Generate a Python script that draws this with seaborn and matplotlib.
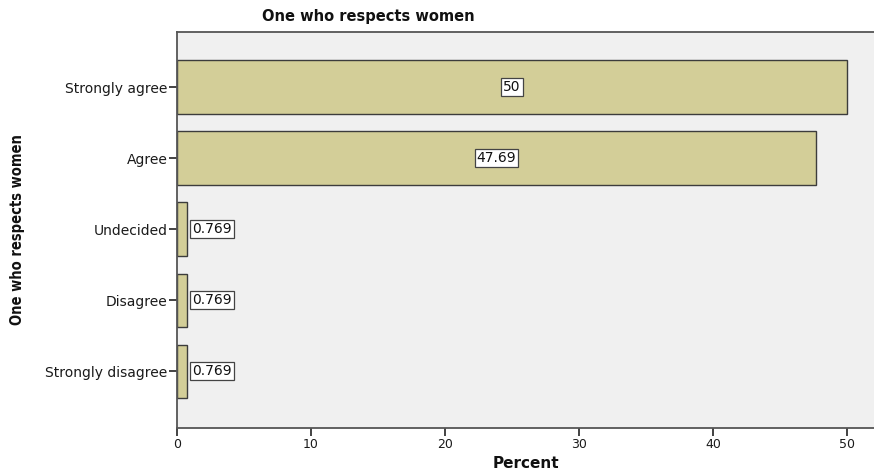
import matplotlib
matplotlib.use("Agg")
import matplotlib.pyplot as plt
import seaborn as sns
import pandas as pd

categories = ["Strongly agree", "Agree", "Undecided", "Disagree", "Strongly disagree"]
percents = [50, 47.69, 0.769, 0.769, 0.769]
value_labels = ["50", "47.69", "0.769", "0.769", "0.769"]
x_ticks = [0, 10, 20, 30, 40, 50]

sns.set_theme(style="white")
plt.rcParams["font.family"] = ["DejaVu Sans"]

df = pd.DataFrame({"category": categories, "percent": percents})

fig = plt.figure(figsize=(8.74, 4.73), dpi=100)
ax = fig.add_axes([177 / 874, 45 / 473, 697 / 874, 396 / 473])
ax.set_facecolor("#F0F0F0")

sns.barplot(data=df, y="category", x="percent", order=categories, orient="h",
            color="#D3CE98", saturation=1, width=0.75,
            edgecolor="#3c3c3c", linewidth=1.0, ax=ax)

for i, (v, lab) in enumerate(zip(percents, value_labels)):
    if v > 5:
        xpos, ha = v / 2, "center"
    else:
        xpos, ha = v + 0.35, "left"
    ax.text(xpos, i, lab, ha=ha, va="center", fontsize=10, fontstretch="normal",
            color="#111111",
            bbox=dict(boxstyle="square,pad=0.14", facecolor="white",
                      edgecolor="#444444", linewidth=0.9))

ax.set_xlim(0, 52.0)
ax.set_ylim(4.80, -0.775)
ax.set_xticks(x_ticks)
ax.set_xticklabels([str(t) for t in x_ticks])
ax.tick_params(axis="both", which="both", bottom=True, left=True,
               length=6, width=1.2, color="#222222", direction="out",
               labelsize=10, labelcolor="#1a1a1a", pad=1)
ax.tick_params(axis="x", labelsize=9)
for lab in ax.get_xticklabels() + ax.get_yticklabels():
    lab.set_fontstretch("normal")

for side in ["top", "left", "bottom"]:
    ax.spines[side].set_visible(True)
    ax.spines[side].set_color("#555555")
    ax.spines[side].set_linewidth(1.3)
ax.spines["right"].set_visible(False)

ax.set_xlabel("Percent", fontsize=11, fontweight="bold", fontstretch="normal",
              labelpad=4, color="#111111")
ax.set_ylabel("One who respects women", fontsize=10.5, fontweight="bold",
              fontstretch="condensed", color="#111111")
ax.yaxis.set_label_coords(-152 / 697, 0.5)
fig.text(368 / 874, 1 - 17 / 473, "One who respects women", ha="center",
         va="center", fontsize=10.5, fontweight="bold", fontstretch="normal",
         color="#111111")

fig.savefig("out.png", dpi=100)
